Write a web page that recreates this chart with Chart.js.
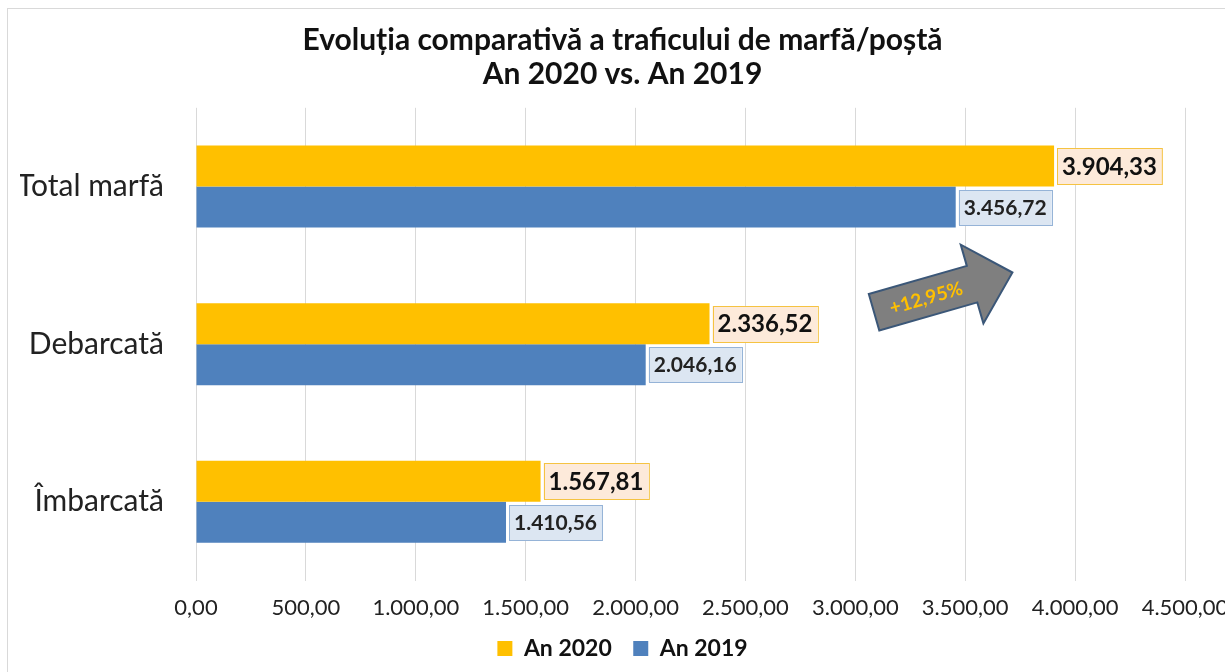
<!DOCTYPE html>
<html>
<head>
<meta charset="utf-8">
<script src="https://cdn.jsdelivr.net/npm/chart.js@4.4.0/dist/chart.umd.min.js"></script>
<style>
  html, body { margin: 0; padding: 0; background: #fff; overflow: hidden; }
  #wrap { width: 1225px; height: 672px; position: relative; }
</style>
</head>
<body>
<div id="wrap"><canvas id="myChart"></canvas></div>
<script>
const categories = ['Total marfă', 'Debarcată', 'Îmbarcată'];
const values2020 = [3904.33, 2336.52, 1567.81];
const values2019 = [3456.72, 2046.16, 1410.56];
const growthLabel = '+12,95%';

const fmt = v => {
  let parts = v.toFixed(2).split('.');
  parts[0] = parts[0].replace(/\B(?=(\d{3})+(?!\d))/g, '.');
  return parts.join(',');
};

// frame round the chart
const frame = {
  id: 'frame',
  beforeDraw(chart) {
    const ctx = chart.ctx;
    ctx.save();
    ctx.fillStyle = '#fff';
    ctx.fillRect(0, 0, chart.width, chart.height);
    ctx.strokeStyle = '#d9d9d9';
    ctx.lineWidth = 1;
    ctx.strokeRect(7.5, 8.5, 1400, 700);
    ctx.restore();
  }
};

// value boxes next to the bars
const valueBoxes = {
  id: 'valueBoxes',
  afterDatasetsDraw(chart) {
    const ctx = chart.ctx;
    const styles = [
      { font: 'bold 24px Lato', bg: '#fdeada', border: '#f5c342', color: '#111', h: 36 },
      { font: 'bold 21px Lato', bg: '#dce6f2', border: '#95b3d7', color: '#222', h: 35 }
    ];
    chart.data.datasets.forEach((ds, i) => {
      const meta = chart.getDatasetMeta(i);
      const st = styles[i];
      meta.data.forEach((bar, j) => {
        const txt = fmt(ds.data[j]);
        ctx.save();
        ctx.font = st.font;
        const w = ctx.measureText(txt).width + 10;
        const x = bar.x + 3;
        const y = Math.round(bar.y - st.h / 2);
        ctx.fillStyle = st.bg;
        ctx.fillRect(x, y, w, st.h);
        ctx.strokeStyle = st.border;
        ctx.lineWidth = 1;
        ctx.strokeRect(Math.round(x) + 0.5, y + 0.5, w, st.h);
        ctx.fillStyle = st.color;
        ctx.textBaseline = 'middle';
        ctx.fillText(txt, x + 5, bar.y + 1);
        ctx.restore();
      });
    });
  }
};

// growth arrow between first and second category
const growthArrow = {
  id: 'growthArrow',
  afterDatasetsDraw(chart) {
    const ctx = chart.ctx;
    const xs = chart.scales.x, ys = chart.scales.y;
    const cx = xs.getPixelForValue(3400);
    const cy = (ys.getPixelForValue(0) + ys.getPixelForValue(1)) / 2 + 27;
    ctx.save();
    ctx.translate(cx, cy);
    ctx.rotate(-0.28);
    ctx.beginPath();
    ctx.moveTo(-72, -19);
    ctx.lineTo(30, -19);
    ctx.lineTo(30, -41);
    ctx.lineTo(72, 0);
    ctx.lineTo(30, 41);
    ctx.lineTo(30, 19);
    ctx.lineTo(-72, 19);
    ctx.closePath();
    ctx.fillStyle = '#7f7f7f';
    ctx.fill();
    ctx.strokeStyle = '#3b5778';
    ctx.lineWidth = 2;
    ctx.stroke();
    ctx.fillStyle = '#ffc000';
    ctx.font = 'bold 19px Lato';
    ctx.textAlign = 'center';
    ctx.textBaseline = 'middle';
    ctx.fillText(growthLabel, -18, 1);
    ctx.restore();
  }
};

const data = {
  labels: categories,
  datasets: [
    {
      label: 'An 2020',
      data: values2020,
      backgroundColor: '#ffc000',
      barPercentage: 1,
      categoryPercentage: 0.52
    },
    {
      label: 'An 2019',
      data: values2019,
      backgroundColor: '#4f81bd',
      barPercentage: 1,
      categoryPercentage: 0.52
    }
  ]
};

const config = {
  type: 'bar',
  data: data,
  options: {
    indexAxis: 'y',
    responsive: true,
    maintainAspectRatio: false,
    animation: false,
    layout: { padding: { top: 8, left: 20, right: 0, bottom: 2 } },
    plugins: {
      title: {
        display: true,
        text: ['Evoluția comparativă a traficului de marfă/poștă', 'An 2020 vs. An 2019'],
        color: '#111',
        font: { family: 'Lato', size: 30, weight: 'bold', lineHeight: 1.13 },
        padding: { top: 15, bottom: 17 }
      },
      legend: {
        position: 'bottom',
        labels: {
          color: '#111',
          boxWidth: 15,
          boxHeight: 15,
          padding: 10,
          font: { family: 'Lato', size: 23, weight: 'bold' },
          generateLabels: chart => {
            const items = Chart.defaults.plugins.legend.labels.generateLabels(chart);
            items[0].text = items[0].text + '\u2002';
            return items;
          }
        }
      },
      tooltip: { enabled: false }
    },
    scales: {
      x: {
        min: 0,
        max: 4500,
        ticks: {
          stepSize: 500,
          color: '#222',
          padding: 14,
          font: { family: 'Lato', size: 22 },
          callback: v => fmt(v)
        },
        grid: { color: '#d9d9d9', drawTicks: false },
        border: { display: false },
        afterFit: scale => {
          scale.paddingRight = 40;
          scale.height -= 8;
        }
      },
      y: {
        ticks: {
          color: '#222',
          padding: 32,
          font: { family: 'Lato', size: 30 }
        },
        grid: { display: false, drawTicks: false },
        border: { display: false },
        afterFit: scale => { scale.width = 176; }
      }
    }
  },
  plugins: [frame, valueBoxes, growthArrow]
};

new Chart(document.getElementById('myChart'), config);
</script>
</body>
</html>
